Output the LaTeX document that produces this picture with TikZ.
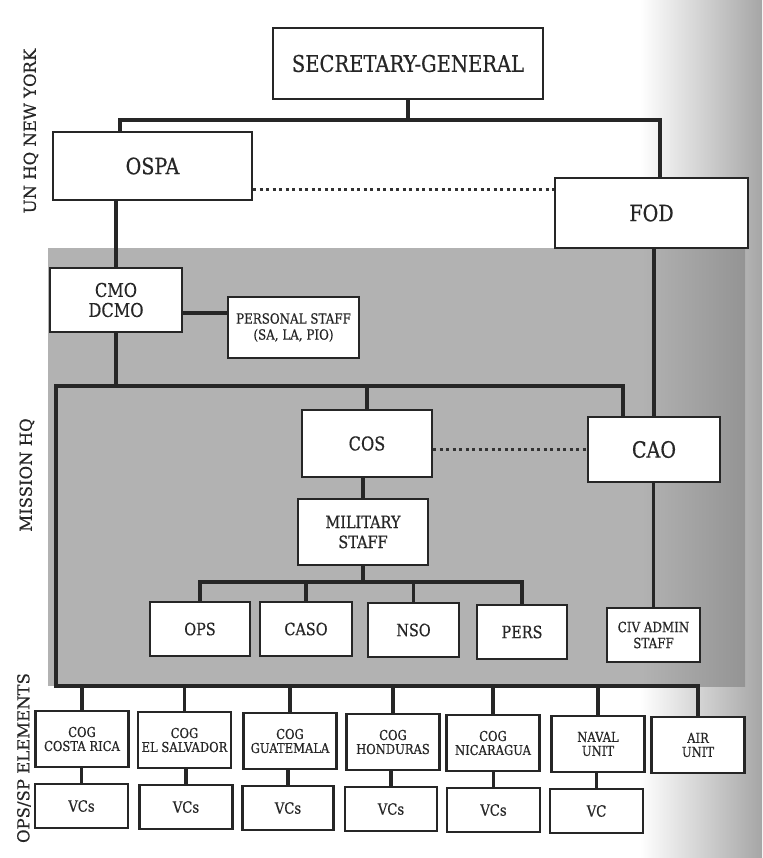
\documentclass[tikz,border=0pt]{standalone}
\usepackage{fontspec}
\setmainfont{DejaVu Serif}[FakeStretch=0.85, FakeBold=0.5]
\newfontfamily\sidefont{DejaVu Serif}[FakeBold=0.4]
\begin{document}
\begin{tikzpicture}[x=1pt,y=-1pt,
  box/.style={draw=black!85, line width=2.2pt, fill=white, inner sep=0pt, align=center, text=black!85},
  conn/.style={draw=black!85, line width=3.6pt},
  dots/.style={draw=black!80, line width=3pt, dash pattern=on 3pt off 3.5pt},
  side/.style={rotate=90, font={\sidefont\fontsize{16.5}{18}\selectfont}, text=black!85},
  fXL/.style={font={\fontsize{23}{25}\selectfont}},
  fXLb/.style={font={\fontsize{22.5}{25}\selectfont}},
  fL/.style={font={\fontsize{19}{20}\selectfont}},
  fM/.style={font={\fontsize{17}{20}\selectfont}},
  fV/.style={font={\fontsize{15.5}{18}\selectfont}},
  fS/.style={font={\fontsize{14}{16}\selectfont}},
  fXS/.style={font={\fontsize{13.6}{14}\selectfont}}
]
\useasboundingbox (0,0) rectangle (762,858);
\fill[white] (0,0) rectangle (762,858);
% page shading on the right
\shade[left color=white, right color=black!35] (640,0) rectangle (762,858);
% mission HQ grey zone
\fill[black!30] (48,248) rectangle (745,686);
\shade[left color=black!30, right color=black!42] (640,248) rectangle (745,686);

% side labels
\node[side] (lab1) at (31,131) {UN HQ NEW YORK};
\node[side] (lab2) at (27,475) {MISSION HQ};
\node[side] (lab3) at (24,758) {OPS/SP ELEMENTS};

% coordinates for bars
\coordinate (tl) at (120,120);
\coordinate (tr) at (660,120);
\coordinate (d1) at (0,190);
\coordinate (d2) at (0,313);
\coordinate (ml) at (56,386);
\coordinate (mr) at (623,386);
\coordinate (d3) at (0,449);
\coordinate (sb) at (0,582);
\coordinate (bl) at (56,686);

% boxes
\node[box, fXL, minimum width=270, minimum height=71] (SG) at (408,63.5) {SECRETARY-GENERAL};
\node[box, fXLb, minimum width=199, minimum height=68] (OSPA) at (152.5,166) {OSPA};
\node[box, fXLb, minimum width=193, minimum height=70] (FOD) at (651.5,213) {FOD};
\node[box, fL, minimum width=132, minimum height=64] (CMO) at (116,300) {CMO\\DCMO};
\node[box, fS, minimum width=131, minimum height=61] (PS) at (293.5,327.5) {PERSONAL STAFF\\(SA, LA, PIO)};
\node[box, fL, minimum width=130, minimum height=67] (COS) at (367,443.5) {COS};
\node[box, fXLb, minimum width=132, minimum height=65] (CAO) at (654,449.5) {CAO};
\node[box, fM, minimum width=130, minimum height=66] (MIL) at (363,532) {MILITARY\\STAFF};
\node[box, fM, minimum width=100, minimum height=54] (OPS) at (200,629) {OPS};
\node[box, fM, minimum width=92, minimum height=54] (CASO) at (306,629) {CASO};
\node[box, fM, minimum width=91, minimum height=54] (NSO) at (413.5,630) {NSO};
\node[box, fM, minimum width=90, minimum height=54] (PERS) at (522,632) {PERS};
\node[box, fS, minimum width=93, minimum height=54] (CIV) at (653.5,635) {CIV ADMIN\\STAFF};

\node[box, fXS, minimum width=93, minimum height=56] (CR) at (82,739) {COG\\COSTA RICA};
\node[box, fXS, minimum width=93, minimum height=56] (ES) at (184.5,740) {COG\\EL SALVADOR};
\node[box, fXS, minimum width=93, minimum height=56] (GU) at (290,741) {COG\\GUATEMALA};
\node[box, fXS, minimum width=93, minimum height=56] (HO) at (393,742) {COG\\HONDURAS};
\node[box, fXS, minimum width=93, minimum height=56] (NI) at (493,743) {COG\\NICARAGUA};
\node[box, fXS, minimum width=93, minimum height=56] (NA) at (598,744) {NAVAL\\UNIT};
\node[box, fXS, minimum width=93, minimum height=56] (AIR) at (698,745) {AIR\\UNIT};

\node[box, fV, minimum width=93, minimum height=44] (V1) at (81.5,806) {VCs};
\node[box, fV, minimum width=93, minimum height=44] (V2) at (186,807) {VCs};
\node[box, fV, minimum width=91, minimum height=44] (V3) at (288,808) {VCs};
\node[box, fV, minimum width=92, minimum height=44] (V4) at (391,809) {VCs};
\node[box, fV, minimum width=93, minimum height=44] (V5) at (493.5,810) {VCs};
\node[box, fV, minimum width=93, minimum height=44] (V6) at (596.5,811) {VC};

% connectors
\draw[conn] (SG.south) -- (SG.south |- tl);
\draw[conn] (OSPA.north -| tl) -- (tl) -- (tr) -- (FOD.north -| tr);
\draw[dots] (OSPA.east |- d1) -- (FOD.west |- d1);
\draw[conn] (CMO.north) -- (CMO.north |- OSPA.south);
\draw[conn] (CMO.east |- d2) -- (PS.west |- d2);
\draw[conn] (CMO.south) -- (CMO.south |- ml);
\draw[conn] (CAO.north -| mr) -- (mr) -- (ml) -- (bl) -- (AIR.north |- bl) -- (AIR.north);
\draw[conn] (COS.north) -- (COS.north |- ml);
\draw[dots] (COS.east |- d3) -- (CAO.west |- d3);
\draw[conn] (MIL.north) -- (MIL.north |- COS.south);
\draw[conn] (MIL.south) -- (MIL.south |- sb);
\draw[conn] (OPS.north) -- (OPS.north |- sb) -- (PERS.north |- sb) -- (PERS.north);
\draw[conn] (CASO.north) -- (CASO.north |- sb);
\draw[conn] (NSO.north) -- (NSO.north |- sb);
\draw[conn] (CAO.north) -- (CAO.north |- FOD.south);
\draw[conn] (CIV.north) -- (CIV.north |- CAO.south);
\foreach \n in {CR,ES,GU,HO,NI,NA} {\draw[conn] (\n.north) -- (\n.north |- bl);}
\draw[conn] (V1.north) -- (V1.north |- CR.south);
\draw[conn] (V2.north) -- (V2.north |- ES.south);
\draw[conn] (V3.north) -- (V3.north |- GU.south);
\draw[conn] (V4.north) -- (V4.north |- HO.south);
\draw[conn] (V5.north) -- (V5.north |- NI.south);
\draw[conn] (V6.north) -- (V6.north |- NA.south);
\end{tikzpicture}
\end{document}
